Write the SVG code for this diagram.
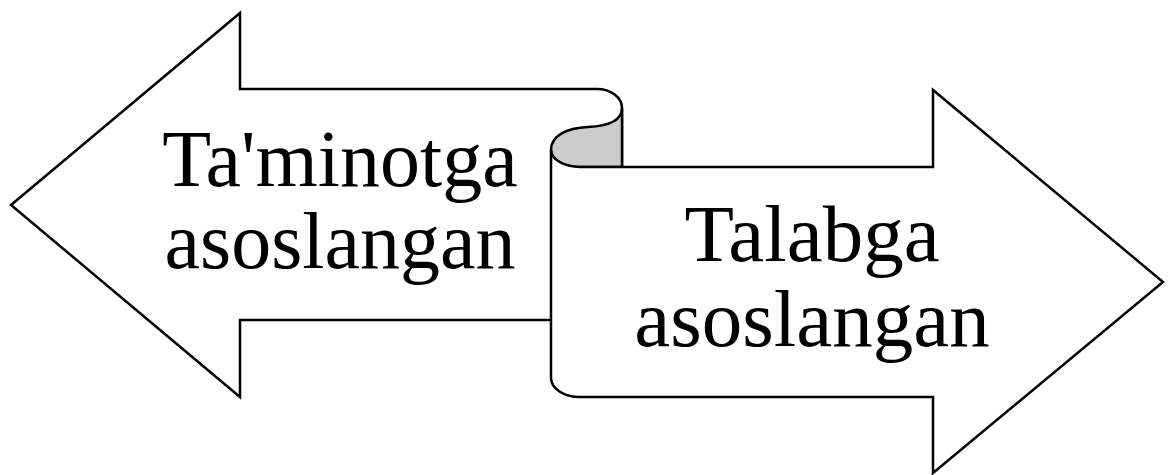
<svg xmlns="http://www.w3.org/2000/svg" width="1168" height="475" viewBox="0 0 1168 475">
<style>
.shape{fill:#fff;stroke:#000;stroke-width:2.5;stroke-linejoin:miter}
.curl{fill:#cccccc;stroke:#000;stroke-width:2.5}
.lbl{font-family:"Liberation Serif","Times New Roman",serif;fill:#000;text-anchor:middle}
</style>
<rect width="1168" height="475" fill="#fff"/>
<g id="left-arrow">
<path class="shape" d="M11,205 L240,13 L240,89 L597,89 A25,19 0 0 1 622,108 L622,320 L240,320 L240,397 Z"/>
<text class="lbl" x="340" y="186" font-size="80">Ta'minotga</text>
<text class="lbl" x="340" y="268" font-size="80">asoslangan</text>
</g>
<g id="curl">
<path class="curl" d="M551,150 C551,136 566,128 588,127 C609,126 622,120 622,108 L622,167 L580,167 A29,17 0 0 1 551,150 Z"/>
</g>
<g id="right-arrow">
<path class="shape" d="M551,150 L551,378 A29,19 0 0 0 580,397 L933,397 L933,473 L1163,282 L933,90 L933,167 L580,167 A29,17 0 0 1 551,150 Z"/>
<text class="lbl" x="812" y="261" font-size="81">Talabga</text>
<text class="lbl" x="812" y="346" font-size="81">asoslangan</text>
</g>
<g id="connectors"/>
</svg>
